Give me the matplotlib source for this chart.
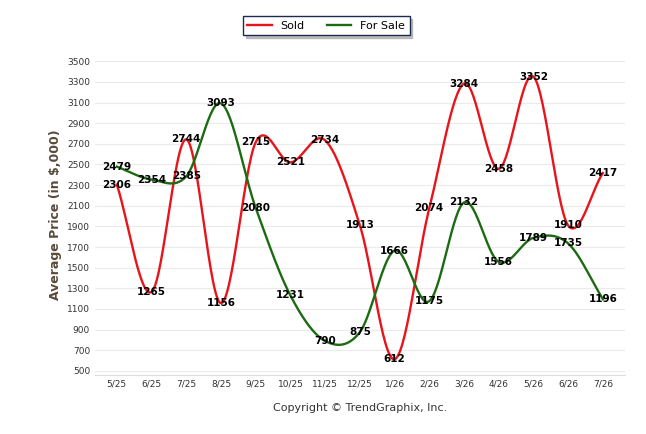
import matplotlib
matplotlib.use("Agg")
import matplotlib.pyplot as plt
import numpy as np

months = ["5/25","6/25","7/25","8/25","9/25","10/25","11/25","12/25","1/26","2/26","3/26","4/26","5/26","6/26","7/26"]
sold = [2306,1265,2744,1156,2715,2521,2734,1913,612,2074,3284,2458,3352,1910,2417]
for_sale = [2479,2354,2385,3093,2080,1231,790,875,1666,1175,2132,1556,1789,1735,1196]

def smooth(y, n=30):
    y = np.asarray(y, float)
    p = np.concatenate([[2*y[0]-y[1]], y, [2*y[-1]-y[-2]]])
    xs, ys = [], []
    for i in range(1, len(p)-2):
        t = np.linspace(0, 1, n, endpoint=False)
        p0, p1, p2, p3 = p[i-1], p[i], p[i+1], p[i+2]
        v = 0.5*((2*p1) + (-p0+p2)*t + (2*p0-5*p1+4*p2-p3)*t**2 + (-p0+3*p1-3*p2+p3)*t**3)
        xs.append(i-1+t); ys.append(v)
    xs.append([len(y)-1]); ys.append([y[-1]])
    return np.concatenate(xs), np.concatenate(ys)

fig = plt.figure(figsize=(6.46,4.34), dpi=100)
ax = fig.add_axes([0.147,0.136,0.82,0.737])
x = np.arange(len(months))
xs, ys = smooth(sold)
ax.plot(xs, ys, color="#e8141b", lw=1.7, label="Sold", zorder=3)
xs, ys = smooth(for_sale)
ax.plot(xs, ys, color="#1c6b12", lw=1.7, label="For Sale", zorder=3)
for i in x:
    ax.text(i, sold[i], str(sold[i]), ha="center", va="center", fontsize=7.5, fontweight="bold", zorder=5)
    ax.text(i, for_sale[i], str(for_sale[i]), ha="center", va="center", fontsize=7.5, fontweight="bold", zorder=5)
ax.set_xlim(-0.63, 14.63)
ax.set_ylim(460, 3560)
ax.set_yticks(range(500, 3501, 200))
ax.set_xticks(x)
ax.set_xticklabels(months)
ax.tick_params(labelsize=6.5, colors="#333333", length=0)
ax.grid(axis="y", color="#ebebeb", lw=0.8)
ax.set_axisbelow(True)
for s in ["top","right","left"]:
    ax.spines[s].set_visible(False)
ax.spines["bottom"].set_color("#dddddd")
ax.set_ylabel("Average Price (in $,000)", fontsize=9, fontweight="bold", color="#5a4a3a")
ax.set_xlabel("Copyright © TrendGraphix, Inc.", fontsize=8, color="#333333", labelpad=10)
leg = fig.legend(loc="upper center", bbox_to_anchor=(0.505, 0.975), ncol=2, fontsize=8,
                 frameon=True, fancybox=False, shadow={"color": "#999999", "alpha": 0.6},
                 edgecolor="#1c2a50", handlelength=2.2)
fig.savefig("out.png", dpi=100)
